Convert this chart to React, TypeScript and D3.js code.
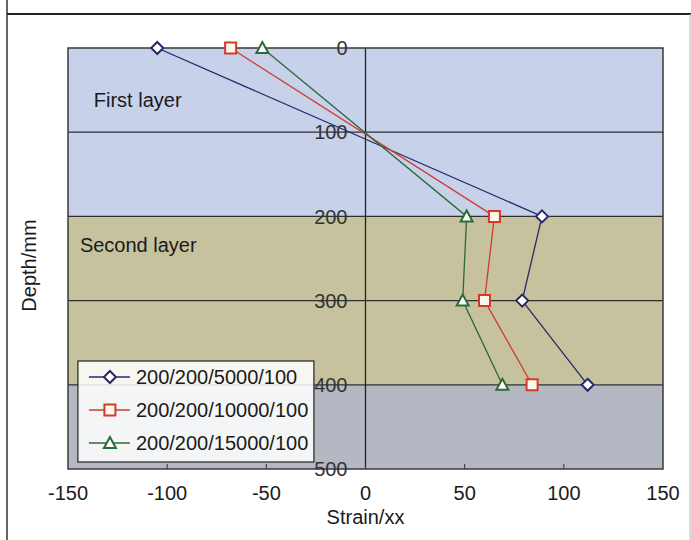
import React from "react";
import * as d3 from "d3";

const WIDTH = 691;
const HEIGHT = 540;
const FONT = "'Liberation Sans', Arial, sans-serif";
const FS = 20;

// depth of each measuring point (mm)
const DEPTHS = [0, 200, 300, 400];
const SERIES_NAMES = ["200/200/5000/100", "200/200/10000/100", "200/200/15000/100"];
const STRAIN_5000 = [-105, 89, 79, 112];
const STRAIN_10000 = [-68, 65, 60, 84];
const STRAIN_15000 = [-52, 51, 49, 69];

const X_TICKS = [-150, -100, -50, 0, 50, 100, 150];
const Y_TICKS = [0, 100, 200, 300, 400, 500];

const LAYER_FROM = [0, 200, 400];
const LAYER_TO = [200, 400, 500];
const LAYER_COLORS = ["#c8d1ea", "#c6c29e", "#b4b8c2"];
const LAYER_LABELS = ["First layer", "Second layer"];
const LAYER_LABEL_AT = [[-137, 62], [-144, 234]];

const COLORS = ["#28286a", "#d23a2c", "#2c6a38"];
const FILLS = ["#ffffff", "#fff8ea", "#ffffff"];
const SHAPES = ["diamond", "square", "triangle"];

const M = {left: 68, right: 28, top: 48, bottom: 71};

function markerPath(shape: string) {
    if (shape === "diamond") return "M0,-6L6,0L0,6L-6,0Z";
    if (shape === "square") return "M-5.5,-5.5H5.5V5.5H-5.5Z";
    return "M0,-6L6,5L-6,5Z";
}

export default function App() {
    const x = d3.scaleLinear().domain([-150, 150]).range([M.left, WIDTH - M.right]);
    const y = d3.scaleLinear().domain([0, 500]).range([M.top, HEIGHT - M.bottom]);

    const series = [STRAIN_5000, STRAIN_10000, STRAIN_15000].map((vals, i) => ({
        name: SERIES_NAMES[i],
        points: vals.map((v, j) => [v, DEPTHS[j]] as [number, number]),
    }));

    const line = d3.line<[number, number]>().x(d => x(d[0])).y(d => y(d[1]));

    const legX = x(-145);
    const legY = 361;
    const legW = 236;
    const legRow = 33;

    return (
        <svg width={WIDTH} height={HEIGHT} style={{position: "absolute", left: 0, top: 0, background: "#fff"}}
             fontFamily={FONT}>
            {/* frame */}
            <line x1={7} x2={7} y1={0} y2={HEIGHT} stroke="#333" strokeWidth={1.5}/>
            <line x1={7} x2={WIDTH} y1={14} y2={14} stroke="#222" strokeWidth={2}/>
            <line x1={690} x2={690} y1={14} y2={HEIGHT} stroke="#bbb" strokeWidth={1}/>

            {/* layer bands */}
            {LAYER_FROM.map((f, i) => (
                <rect key={i} x={x(-150)} width={x(150) - x(-150)} y={y(f)} height={y(LAYER_TO[i]) - y(f)}
                      fill={LAYER_COLORS[i]}/>
            ))}

            {/* grid */}
            {Y_TICKS.slice(1, -1).map(t => (
                <line key={t} x1={x(-150)} x2={x(150)} y1={y(t)} y2={y(t)} stroke="#2f2f2f" strokeWidth={1.2}/>
            ))}
            <line x1={x(0)} x2={x(0)} y1={y(0)} y2={y(500)} stroke="#222" strokeWidth={1.3}/>
            {X_TICKS.slice(1, -1).map(t => (
                <line key={t} x1={x(t)} x2={x(t)} y1={y(500)} y2={y(500) - 5} stroke="#333"/>
            ))}
            <rect x={x(-150)} y={y(0)} width={x(150) - x(-150)} height={y(500) - y(0)} fill="none"
                  stroke="#3a3a3a" strokeWidth={1.5}/>

            {/* layer labels */}
            {LAYER_LABELS.map((l, i) => (
                <text key={l} x={x(LAYER_LABEL_AT[i][0])} y={y(LAYER_LABEL_AT[i][1])} dy="0.35em" fontSize={FS}
                      fill="#1a1a1a">{l}</text>
            ))}

            {/* y tick labels */}
            {Y_TICKS.map(t => (
                <text key={t} x={x(0) - 18} y={y(t)} dy="0.36em" textAnchor="end" fontSize={FS}
                      fill="#333">{t}</text>
            ))}

            {/* series */}
            {series.map((s, i) => (
                <g key={s.name}>
                    <path d={line(s.points) || ""} fill="none" stroke={COLORS[i]} strokeWidth={1.3}/>
                    {s.points.map((p, j) => (
                        <path key={j} d={markerPath(SHAPES[i])} transform={`translate(${x(p[0])},${y(p[1])})`}
                              fill={FILLS[i]} stroke={COLORS[i]} strokeWidth={2}/>
                    ))}
                </g>
            ))}

            {/* legend */}
            <rect x={legX} y={legY} width={legW} height={legRow * 3 + 2} fill="#fff" fillOpacity={0.85}
                  stroke="#222" strokeWidth={1.2}/>
            {series.map((s, i) => {
                const cy = legY + 16 + i * legRow;
                return (
                    <g key={s.name}>
                        <line x1={legX + 11} x2={legX + 52} y1={cy} y2={cy} stroke={COLORS[i]} strokeWidth={1.3}/>
                        <path d={markerPath(SHAPES[i])} transform={`translate(${legX + 32},${cy})`}
                              fill={FILLS[i]} stroke={COLORS[i]} strokeWidth={2}/>
                        <text x={legX + 58} y={cy} dy="0.35em" fontSize={FS} fill="#1a1a1a">{s.name}</text>
                    </g>
                );
            })}

            {/* x axis labels */}
            {X_TICKS.map(t => (
                <text key={t} x={x(t)} y={y(500) + 24} dy="0.35em" textAnchor="middle" fontSize={FS}
                      fill="#1a1a1a">{t}</text>
            ))}
            <text x={x(0)} y={y(500) + 48} dy="0.35em" textAnchor="middle" fontSize={FS} fill="#1a1a1a">Strain/xx</text>
            <text transform={`translate(29,${(y(0) + y(500)) / 2 + 7}) rotate(-90)`} textAnchor="middle" dy="0.35em"
                  fontSize={FS} fill="#1a1a1a">Depth/mm</text>
        </svg>
    );
}
